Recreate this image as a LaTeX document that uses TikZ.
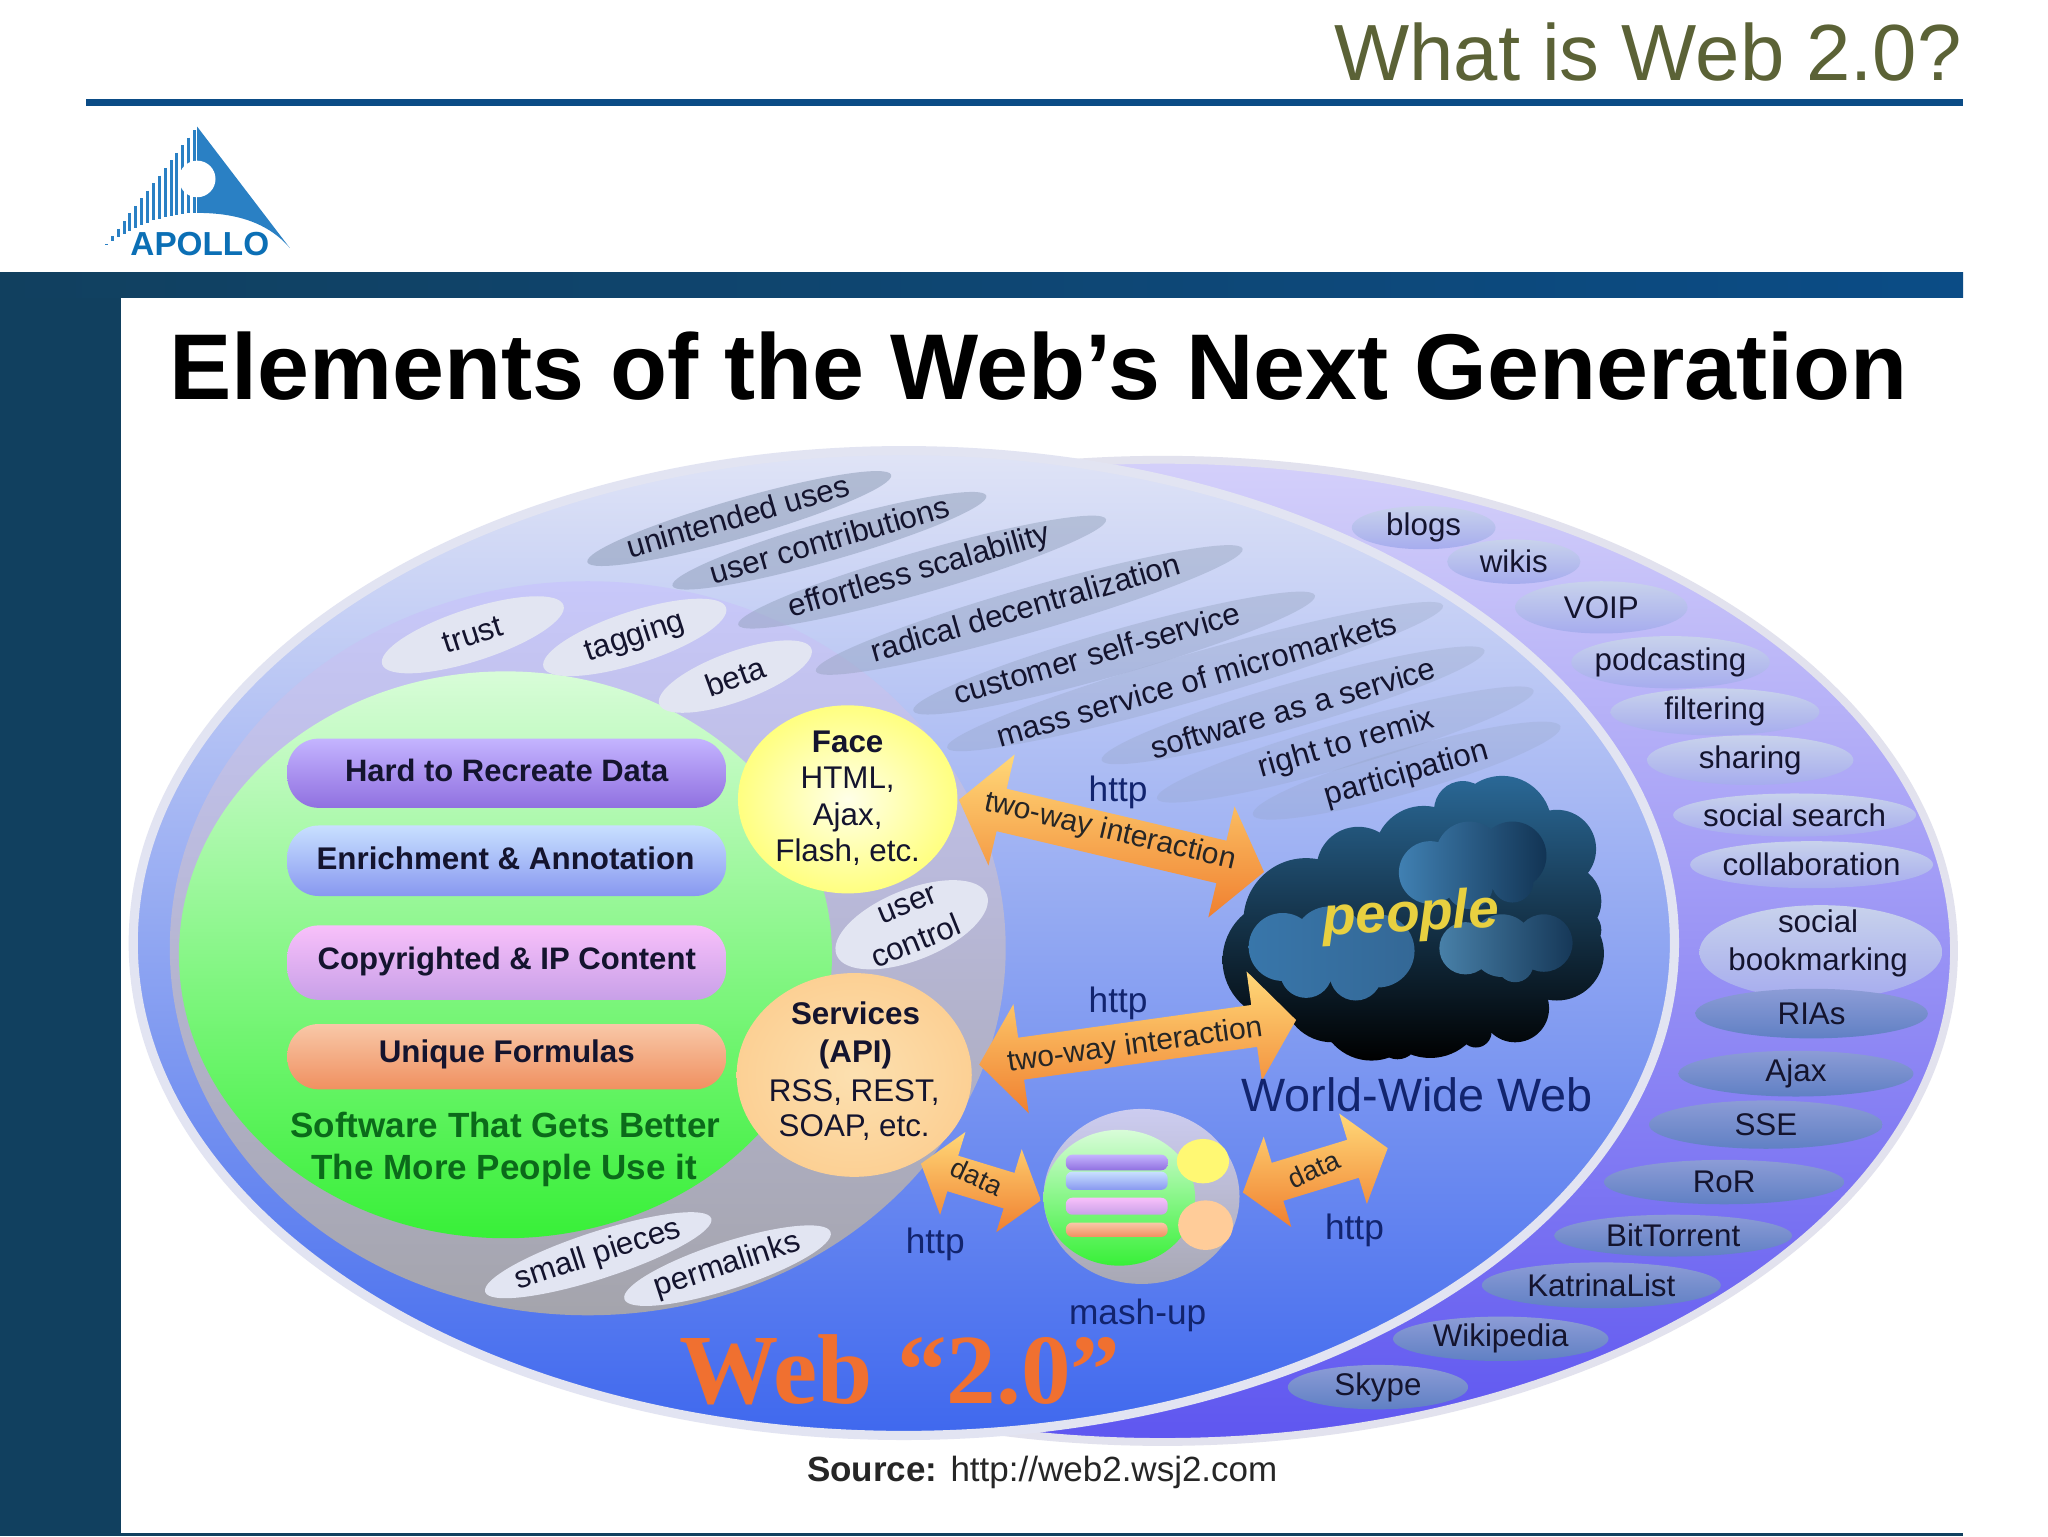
\documentclass[tikz,border=0pt]{standalone}
\usepackage{fontspec}
\setmainfont{Liberation Sans}
\newfontfamily\serifbold[BoldFont={Liberation Serif Bold}]{Liberation Serif}
\usetikzlibrary{shapes.geometric,shapes.arrows}
\newcommand{\fsz}[1]{\fontsize{#1}{#1}\selectfont}
\tikzset{
  textlab/.style={inner sep=0pt, align=center, text=inktext, font=\fsz{24}},
  tagoval/.style={ellipse, inner sep=0pt, draw=none, fill=ovalgrey},
  whiteoval/.style={ellipse, inner sep=0pt, draw=none, fill=ovalwhite},
  upperoval/.style={ellipse, inner sep=0pt, draw=none, top color=ovalupa, bottom color=ovalupb},
  loweroval/.style={ellipse, inner sep=0pt, draw=none, top color=ovallowa, bottom color=ovallowb},
  pill/.style={rounded corners=24pt, inner sep=0pt, minimum width=336pt, draw=none},
  wayarrow/.style={double arrow, double arrow tip angle=105, inner sep=0pt, draw=none, top color=arrowa, bottom color=arrowb},
  waylab/.style={inner sep=0pt, text=black!85, font=\fsz{23}},
  httplab/.style={inner sep=0pt, text=navytext, font=\fsz{27}}
}
\begin{document}
\begin{tikzpicture}[x=1pt,y=-1pt]
\definecolor{inktext}{HTML}{14142E}
\definecolor{navytext}{HTML}{12246E}
\definecolor{ovalgrey}{HTML}{8E9DB8}
\definecolor{ovalwhite}{HTML}{E2E5F2}
\definecolor{ovalupa}{HTML}{C8D2EC}
\definecolor{ovalupb}{HTML}{A6ACEE}
\definecolor{ovallowa}{HTML}{8C9CD6}
\definecolor{ovallowb}{HTML}{6080C4}
\definecolor{arrowa}{HTML}{FFD878}
\definecolor{arrowb}{HTML}{F08030}
\definecolor{logoblue}{HTML}{2A80C4}
\definecolor{barblue}{HTML}{0B4C86}
\definecolor{sidedark}{HTML}{11405F}
\useasboundingbox (0,0) rectangle (1568,1176);
\fill[white] (0,0) rectangle (1568,1176);
% slide frame
\node[anchor=east, inner sep=0pt, text={rgb,255:red,91;green,98;blue,54}, font=\fsz{61}] (slidetitle) at (1502,40) {What is Web 2.0?};
\fill[barblue] (66,76) rectangle (1503,81);
\shade[left color=sidedark, right color=barblue] (0,209) rectangle (1503,228);
\fill[sidedark] (0,228) rectangle (93,1176);
\fill[sidedark] (93,1174) rectangle (1503,1176);
% logo
\foreach \x in {81.5,86,...,149}
  \draw[logoblue, line width=2.3pt] (\x,{97+(151-\x)*1.29}) -- (\x,{163+((151-\x)/70)^2*25});
\fill[logoblue] (151,97) -- (222,190) .. controls (205,170) and (180,163) .. (151,163) -- cycle;
\fill[white] (151,137) circle (14);
\node[inner sep=0pt, text={rgb,255:red,11;green,111;blue,181}, font=\bfseries\fsz{25.5}] (apollo) at (153,187) {APOLLO};
\node[inner sep=0pt, text=black, font=\bfseries\fsz{71.5}] (heading) at (795,280) {Elements of the Web’s Next Generation};
% backdrop ellipses
\shade[top color={rgb,255:red,212;green,208;blue,250}, middle color={rgb,255:red,156;green,148;blue,250}, bottom color={rgb,255:red,94;green,86;blue,240}, draw={rgb,255:red,226;green,226;blue,238}, line width=6pt] (890,728) ellipse [x radius=606, y radius=376];
\shade[top color={rgb,255:red,224;green,228;blue,246}, middle color={rgb,255:red,143;green,169;blue,246}, bottom color={rgb,255:red,63;green,104;blue,238}, draw={rgb,255:red,226;green,228;blue,242}, line width=7pt] (692,722) ellipse [x radius=590, y radius=377];
\shade[top color={rgb,255:red,200;green,200;blue,250}, middle color={rgb,255:red,176;green,180;blue,204}, bottom color={rgb,255:red,164;green,164;blue,172}] (450,726) ellipse [x radius=320, y radius=281];
\shade[top color={rgb,255:red,216;green,252;blue,216}, middle color={rgb,255:red,160;green,252;blue,160}, bottom color={rgb,255:red,56;green,240;blue,56}] (387,731) ellipse [x radius=250, y radius=217];
% data pills
\node[pill, minimum height=53pt, top color={rgb,255:red,196;green,180;blue,255}, bottom color={rgb,255:red,144;green,112;blue,224}] (pillhard) at (388,592) {};
\node[pill, minimum height=54pt, top color={rgb,255:red,200;green,224;blue,255}, bottom color={rgb,255:red,136;green,152;blue,240}] (pillrich) at (388,659) {};
\node[pill, minimum height=57pt, top color={rgb,255:red,248;green,192;blue,250}, bottom color={rgb,255:red,200;green,160;blue,232}] (pillcopy) at (388,737) {};
\node[pill, minimum height=50pt, top color={rgb,255:red,248;green,200;blue,168}, bottom color={rgb,255:red,240;green,144;blue,96}] (pillform) at (388,809) {};
\node[textlab, font=\bfseries\fsz{23.7}] (hardlab) at (388,590) {Hard to Recreate Data};
\node[textlab, font=\bfseries\fsz{24}] (richlab) at (387,657) {Enrichment \& Annotation};
\node[textlab, font=\bfseries\fsz{23.8}] (copylab) at (388,736) {Copyrighted \& IP Content};
\node[textlab, font=\bfseries\fsz{24}] (formlab) at (388,807) {Unique Formulas};
\node[textlab, text={rgb,255:red,11;green,106;blue,26}, font=\bfseries\fsz{26.8}] (betterlab) at (387,861) {Software That Gets Better};
\node[textlab, text={rgb,255:red,11;green,106;blue,26}, font=\bfseries\fsz{26.8}] (morelab) at (386,896) {The More People Use it};
% face and services
\shade[inner color={rgb,255:red,255;green,255;blue,232}, outer color={rgb,255:red,255;green,255;blue,128}] (649,612) ellipse [x radius=84, y radius=72];
\shade[inner color={rgb,255:red,252;green,224;blue,176}, outer color={rgb,255:red,252;green,208;blue,148}] (654,823) ellipse [x radius=90, y radius=78];
\node[textlab, font=\bfseries\fsz{24}] (facehead) at (649,568) {Face};
\node[textlab] (facetext) at (649,625) {HTML,\\[4pt]Ajax,\\[4pt]Flash, etc.};
\node[textlab, font=\bfseries\fsz{24}] (servhead) at (655,793) {Services\\[5pt](API)};
\node[textlab] (servtext) at (654,850) {RSS, REST,\\[3pt]SOAP, etc.};
% tilted tags
\foreach \nm/\cx/\cy/\w/\h/\lx/\ly/\op/\lab in {
  unintended/566/397/242/30/565/395/.55/unintended uses,
  contrib/635/414/250/30/635/413/.5/user contributions,
  scalab/706/438/293/32/704/438/.45/effortless scalability,
  decentral/788/467/340/34/785/465/.4/radical decentralization,
  selfserv/853/500/320/34/840/500/.35/customer self-service,
  microm/915/518/395/36/916/520/.28/mass service of micromarkets,
  saas/990/540/305/34/990/542/.25/software as a service,
  remix/1030/570/300/34/1031/570/.22/right to remix,
  particip/1077/590/245/34/1077/593/.22/participation}{
  \node[tagoval, fill opacity=\op, rotate=16, minimum width=\w pt, minimum height=\h pt] (\nm) at (\cx,\cy) {};
  \node[textlab, rotate=16] (\nm-lab) at (\lx,\ly) {\lab};
}
\foreach \nm/\cx/\cy/\w/\h/\rot/\lab in {
  trust/362/486/146/40/18/trust,
  tagging/486/488/147/40/18/tagging,
  beta/563/518/124/38/20/beta,
  small/458/961/182/36/18/small pieces,
  permal/557/969/166/36/18/permalinks}{
  \node[whiteoval, rotate=\rot, minimum width=\w pt, minimum height=\h pt] (\nm) at (\cx,\cy) {};
  \node[textlab, rotate=\rot] (\nm-lab) at (\cx,\cy) {\lab};
}
\node[whiteoval, rotate=22, minimum width=124pt, minimum height=54pt] (userctl) at (698,708) {};
\node[textlab, rotate=22] (userlab) at (695,693) {user};
\node[textlab, rotate=22] (ctllab) at (701,720) {control};
% right hand tags
\foreach \nm/\cx/\cy/\w/\h/\lab in {
  blogs/1090/404/110/33/blogs,
  wikis/1159/430/102/34/wikis,
  voip/1226/465/132/40/VOIP,
  podcast/1279/507/152/40/podcasting,
  filtering/1313/545/160/36/filtering,
  sharing/1340/582/158/38/sharing,
  search/1374/624/186/33/social search,
  collab/1387/662/186/36/collaboration}{
  \node[upperoval, minimum width=\w pt, minimum height=\h pt] (\nm) at (\cx,\cy) {};
  \node[textlab] (\nm-lab) at (\nm) {\lab};
}
\node[upperoval, minimum width=186pt, minimum height=72pt] (bookmark) at (1394,729) {};
\node[textlab] (bookmark-lab) at (1392,722) {social\\[5pt]bookmarking};
\foreach \nm/\cx/\cy/\w/\h/\lab in {
  rias/1387/776/178/38/RIAs,
  ajax/1375/822/180/35/Ajax,
  sse/1352/861/179/37/SSE,
  ror/1320/905/184/34/RoR,
  bittorrent/1281/946/182/32/BitTorrent,
  katrina/1226/984/183/35/KatrinaList,
  wikipedia/1149/1025/165/34/Wikipedia,
  skype/1055/1062/138/34/Skype}{
  \node[loweroval, minimum width=\w pt, minimum height=\h pt] (\nm) at (\cx,\cy) {};
  \node[textlab] (\nm-lab) at (\nm) {\lab};
}
% cloud
\shade[top color={rgb,255:red,42;green,104;blue,150}, bottom color=black] (1000,705) circle (48) (982,735) circle (46) (1040,665) circle (32) (1090,655) circle (38) (1150,632) circle (38) (1192,650) circle (30) (1198,690) circle (28) (1192,730) circle (36) (1160,772) circle (26) (1095,768) circle (42) (1050,772) circle (40) (1020,760) circle (38) (1110,705) circle (72) (1020,690) circle (30) (1120,620) circle (22) (1210,712) circle (16) (1075,640) circle (14) (1130,790) circle (12) (1070,795) circle (16);
\shade[left color={rgb,255:red,64;green,128;blue,178}, right color={rgb,255:red,18;green,52;blue,84}] (1095,668) circle (24) (1125,655) circle (26) (1158,655) circle (26) (1125,678) circle (18) (1158,675) circle (16);
\shade[left color={rgb,255:red,56;green,118;blue,170}, right color={rgb,255:red,52;green,104;blue,150}] (982,725) circle (26) (1018,722) circle (28) (1055,728) circle (28) (1000,744) circle (20) (1038,746) circle (20);
\shade[left color={rgb,255:red,72;green,128;blue,168}, right color={rgb,255:red,22;green,56;blue,88}] (1122,726) circle (20) (1150,724) circle (24) (1182,722) circle (22) (1160,738) circle (14);
\node[inner sep=0pt, rotate=3, text={rgb,255:red,232;green,208;blue,64}, font=\bfseries\itshape\fsz{42}] (people) at (1080,702) {people};
% arrows
\node[wayarrow, rotate=-13.3, minimum height=240pt, double arrow head extend=27pt] (arrowface) at (851,640) {\rule{0pt}{33pt}};
\node[waylab, rotate=-13.3] (arrowface-lab) at (850,637) {two-way interaction};
\node[wayarrow, rotate=8, minimum height=245pt, double arrow head extend=26pt] (arrowserv) at (871,798) {\rule{0pt}{32pt}};
\node[waylab, rotate=8] (arrowserv-lab) at (869,801) {two-way interaction};
\node[wayarrow, rotate=-17, minimum height=96pt, double arrow head extend=19pt] (arrowdataa) at (751,905) {\rule{0pt}{28pt}};
\node[waylab, rotate=-25, font=\fsz{21}] (arrowdataa-lab) at (748,901) {data};
\node[wayarrow, rotate=17, minimum height=116pt, double arrow head extend=21pt] (arrowdatab) at (1007,896) {\rule{0pt}{30pt}};
\node[waylab, rotate=25, font=\fsz{21}] (arrowdatab-lab) at (1006,895) {data};
% mash-up
\shade[top color={rgb,255:red,204;green,204;blue,240}, bottom color={rgb,255:red,168;green,168;blue,180}] (874,916) ellipse [x radius=75, y radius=67];
\shade[top color={rgb,255:red,216;green,252;blue,216}, middle color={rgb,255:red,160;green,252;blue,160}, bottom color={rgb,255:red,56;green,240;blue,56}] (857,917) ellipse [x radius=58, y radius=52];
\shade[rounded corners=5pt, top color={rgb,255:red,196;green,180;blue,255}, bottom color={rgb,255:red,144;green,112;blue,224}] (816,884) rectangle (894,896);
\shade[rounded corners=5pt, top color={rgb,255:red,200;green,224;blue,255}, bottom color={rgb,255:red,136;green,152;blue,240}] (816,897) rectangle (894,911);
\shade[rounded corners=5pt, top color={rgb,255:red,248;green,192;blue,250}, bottom color={rgb,255:red,200;green,160;blue,232}] (816,917) rectangle (894,930);
\shade[rounded corners=5pt, top color={rgb,255:red,248;green,200;blue,168}, bottom color={rgb,255:red,240;green,144;blue,96}] (816,936) rectangle (894,947);
\fill[yellow!55!white] (921,889) ellipse [x radius=20, y radius=17];
\fill[orange!40!white] (923,938) ellipse [x radius=21, y radius=19];
\node[httplab] (mashlab) at (871,1007) {mash-up};
% labels
\node[httplab] (httpa) at (856,607) {http};
\node[httplab] (httpb) at (856,768) {http};
\node[httplab] (httpc) at (716,953) {http};
\node[httplab] (httpd) at (1037,942) {http};
\node[httplab, font=\fsz{35.8}] (wwwlab) at (1085,838) {World-Wide Web};
\node[inner sep=0pt, text={rgb,255:red,240;green,112;blue,48}, font=\serifbold\bfseries\fsz{76}] (weblab) at (689,1049) {Web “2.0”};
\node[inner sep=0pt, text=black!85, font=\fsz{26.8}] (source) at (798,1127) {\textbf{Source:} http://web2.wsj2.com};
\end{tikzpicture}
\end{document}
